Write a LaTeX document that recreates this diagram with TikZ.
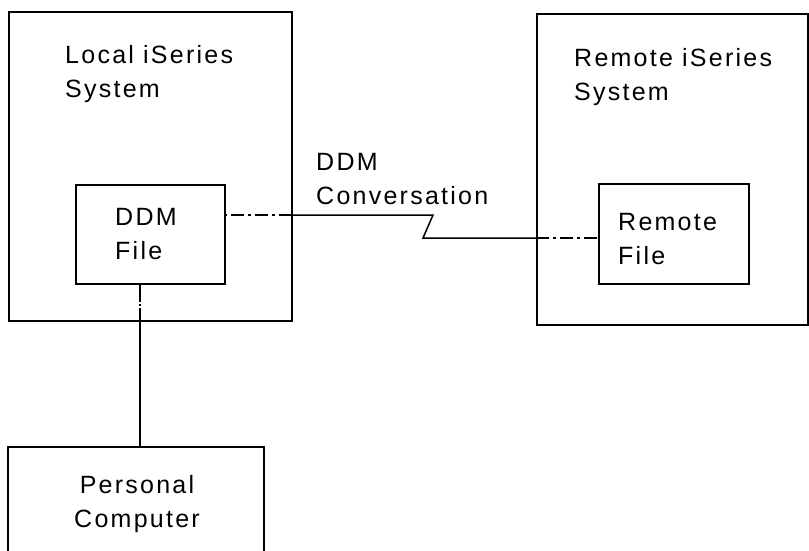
\documentclass[tikz,border=0pt]{standalone}
\usepackage{fontspec}
\setmainfont{Liberation Sans}[LetterSpace=9]
\usetikzlibrary{positioning}
\tikzstyle{sysbox} = [rectangle, draw=black, line width=1.5pt, inner sep=0pt]
\tikzstyle{lbl} = [inner sep=0pt, align=left, anchor=north west, font=\fontsize{25}{34}\selectfont]
\tikzstyle{link} = [line width=1.5pt]
\tikzstyle{ddline} = [link, dash pattern=on 13pt off 4pt on 3pt off 4pt]

\begin{document}
\begin{tikzpicture}[x=1pt, y=-1pt]
\useasboundingbox (0,0) rectangle (809,550);
\clip (0,0) rectangle (809,550);
% boxes
\node (local) [sysbox, minimum width=283pt, minimum height=309pt] at (150.5,166.5) {};
\node (ddm) [sysbox, minimum width=149pt, minimum height=99pt] at (150.5,234.5) {};
\node (remote) [sysbox, minimum width=271pt, minimum height=311pt] at (672.5,169.5) {};
\node (rfile) [sysbox, minimum width=150pt, minimum height=100pt] at (674,234) {};
\node (pc) [sysbox, minimum width=256pt, minimum height=113pt] at (136,503.5) {};
% texts
\node (localtxt) [lbl] at (65,45) {Local iSeries\\System};
\node (remotetxt) [lbl] at (574,48) {Remote iSeries\\System};
\node (ddmtxt) [lbl] at (115,208) {DDM\\File};
\node (rfiletxt) [lbl] at (618,213) {Remote\\File};
\node (convtxt) [lbl] at (316,153) {DDM\\Conversation};
\node (pctxt) [lbl, align=center, anchor=north] at (137,475) {Personal\\Computer};
% connectors
\coordinate (tap) at ([yshift=19.5pt]ddm.east);
\coordinate (rtap) at ([yshift=-4pt]rfile.west);
\coordinate (zig) at (433,215);
\coordinate (zag) at (423,238);
\coordinate (drop) at ([xshift=-10.5pt]ddm.south);
\draw [ddline, dash phase=-5pt] (tap) -- (tap -| local.east);
\draw [link] (tap -| local.east) -- (zig) -- (zag) -- (rtap -| remote.west);
\draw [ddline] (rtap -| remote.west) -- (rtap);
\draw [link, dash pattern=on 17pt off 2pt on 2pt off 2pt] (drop) -- (drop |- local.south);
\draw [link] (drop |- local.south) -- (drop |- pc.north);
\end{tikzpicture}
\end{document}
